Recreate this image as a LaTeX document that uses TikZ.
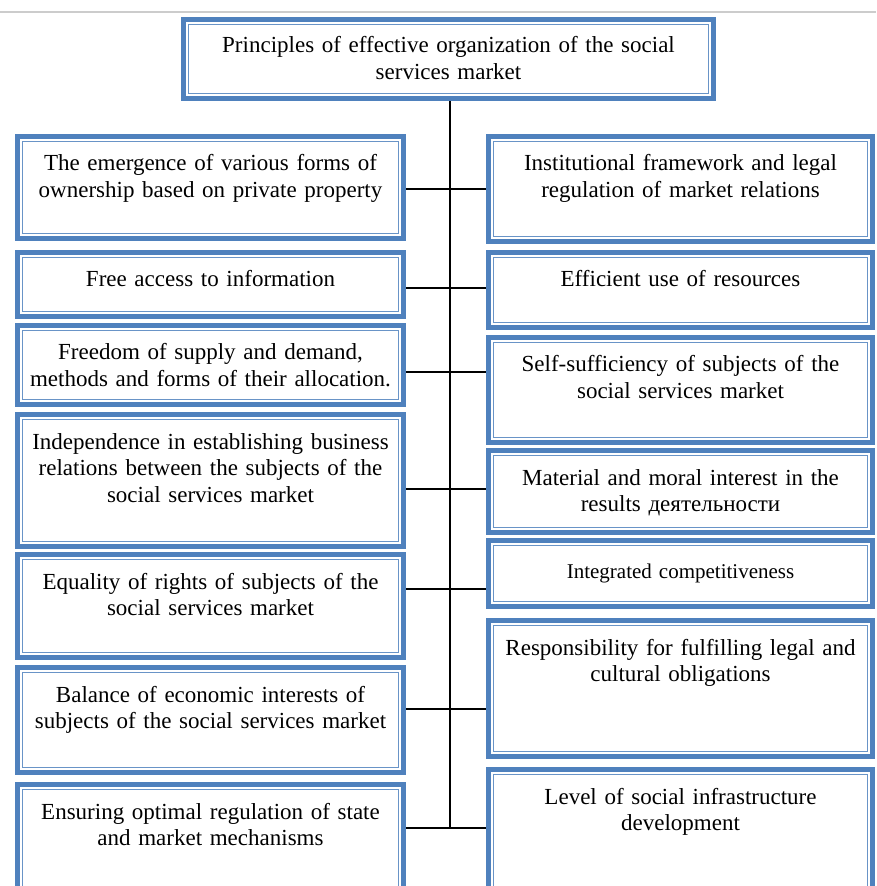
\documentclass[tikz,border=0pt]{standalone}
\usepackage{fontspec}
\setmainfont{Liberation Serif}
\usetikzlibrary{positioning}
\definecolor{boxblue}{RGB}{79,129,189}
\tikzset{
  principle/.style={draw=boxblue, line width=2.5pt, fill=white, inner sep=0pt, anchor=north west,
    text width=186pt, align=center, text height=17.25pt, font=\fontsize{11.5}{13.25}\selectfont,
    path picture={\draw[boxblue!85, line width=0.7pt]
      ([shift={(2.5pt,-2.5pt)}]path picture bounding box.north west) rectangle
      ([shift={(-2.5pt,2.5pt)}]path picture bounding box.south east);}},
  leftbox/.style={principle, minimum width=193pt},
  rightbox/.style={principle, minimum width=192pt},
  link/.style={black, line width=0.7pt}
}

\begin{document}
\begin{tikzpicture}[x=0.5pt, y=-0.5pt]
  \useasboundingbox (0,0) rectangle (876,886);
  \clip (0,0) rectangle (876,886);
  \draw[black!20, line width=1pt] (0,12) -- (876,12);
  % head
  \node[principle, minimum width=265pt, text width=255pt, text height=16.75pt, text depth=22.75pt] (top) at (181,17)
    {Principles of effective organization of the social\\ services market};
  % left column
  \node[leftbox, text depth=33.75pt] (l1) at (15,134) {The emergence of various forms of\\ ownership based on private property};
  \node[leftbox, text depth=14.75pt] (l2) at (15,250) {Free access to information};
  \node[leftbox, text depth=22.25pt] (l3) at (15,323) {Freedom of supply and demand,\\ methods and forms of their allocation.};
  \node[leftbox, text depth=48.75pt] (l4) at (15,412) {Independence in establishing business\\ relations between the subjects of the\\ social services market};
  \node[leftbox, text depth=34.25pt] (l5) at (15,552) {Equality of rights of subjects of the\\ social services market};
  \node[leftbox, text depth=35.25pt] (l6) at (15,665) {Balance of economic interests of\\ subjects of the social services market};
  \node[leftbox, text depth=60pt] (l7) at (15,782) {Ensuring optimal regulation of state\\ and market mechanisms};
  % right column
  \node[rightbox, text depth=35.25pt] (r1) at (486,134) {Institutional framework and legal\\ regulation of market relations};
  \node[rightbox, text depth=20.25pt] (r2) at (486,250) {Efficient use of resources};
  \node[rightbox, text depth=35.25pt] (r3) at (486,335) {Self-sufficiency of subjects of the\\ social services market};
  \node[rightbox, text depth=23.75pt] (r4) at (486,448) {Material and moral interest in the\\ results деятельности};
  \node[rightbox, text height=18.75pt, text depth=14.25pt, font=\fontsize{10.5}{12.5}\selectfont] (r5) at (486,538) {Integrated competitiveness};
  \node[rightbox, text depth=50.75pt] (r6) at (486,618) {Responsibility for fulfilling legal and\\ cultural obligations};
  \node[rightbox, text depth=60pt] (r7) at (486,767) {Level of social infrastructure\\ development};
  % trunk and branches
  \coordinate (j1) at (450,189);
  \coordinate (j2) at (450,288);
  \coordinate (j3) at (450,372);
  \coordinate (j4) at (450,489);
  \coordinate (j5) at (450,589);
  \coordinate (j6) at (450,709);
  \coordinate (j7) at (450,828);
  \draw[link] (top.south -| j1) -- (j7);
  \draw[link] (l1.east |- j1) -- (r1.west |- j1);
  \draw[link] (l2.east |- j2) -- (r2.west |- j2);
  \draw[link] (l3.east |- j3) -- (r3.west |- j3);
  \draw[link] (l4.east |- j4) -- (r4.west |- j4);
  \draw[link] (l5.east |- j5) -- (r5.west |- j5);
  \draw[link] (l6.east |- j6) -- (r6.west |- j6);
  \draw[link] (l7.east |- j7) -- (r7.west |- j7);
\end{tikzpicture}
\end{document}
